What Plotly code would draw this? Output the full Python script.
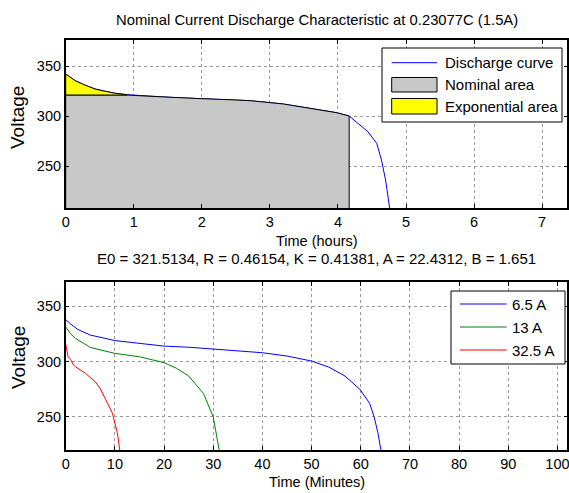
import plotly.graph_objects as go

W, H = 569, 493

# ---------------- data ----------------
# Top plot: nominal-current discharge curve (time in hours, voltage)
t_hours = [0, 0.14, 0.29, 0.43, 0.58, 0.73, 0.9, 1.24, 1.63, 2.0, 2.4, 2.71,
           3.2, 3.69, 3.98, 4.165, 4.32, 4.44, 4.57, 4.64, 4.70, 4.76]
v_nominal_curve = [342, 335.3, 330.7, 327, 324.7, 322.7, 321.3, 319.7, 318.3, 317.3,
                   316.3, 315.3, 312, 307, 303.3, 300, 291, 284.3, 272.7, 256, 236, 207.7]
v_nom_level = 321.0        # nominal voltage level (bottom of exponential area)
t_exp_end = 0.9            # end of exponential zone (hours)
t_nom_end = 4.165          # end of nominal zone (hours)

# Bottom plot: discharge curves at several currents (time in minutes)
t_65 = [0, 1, 2.5, 5, 10, 15, 20, 25, 30, 35, 40, 45, 50, 53.5, 56.8, 59.8, 61.8,
        62.7, 63.5, 64.1]
v_65 = [338, 334, 329, 324, 319, 316.5, 314, 313, 311.5, 310, 308, 305, 300.5,
        295, 286.9, 275, 262.3, 250.3, 235.3, 220]
t_13 = [0, 1, 2, 5, 10, 15, 20, 22.5, 25, 28, 30, 31.2]
v_13 = [331.4, 325, 321, 312.8, 307.4, 304.4, 299, 294, 287, 271.3, 250, 220]
t_325 = [0, 0.5, 1, 1.6, 2, 4, 6, 7, 8, 9.5, 10.5, 11]
v_325 = [315.8, 304.3, 302, 296.8, 295.3, 289.4, 281.8, 275.8, 266.8, 253.3, 235.5, 220]

top_labels = ["Discharge curve", "Nominal area", "Exponential area"]
bottom_labels = ["6.5 A", "13 A", "32.5 A"]

title_top = "Nominal Current Discharge Characteristic at 0.23077C (1.5A)"
title_bottom = "E0 = 321.5134, R = 0.46154, K = 0.41381, A = 22.4312, B = 1.651"

# ---------------- helpers ----------------
def px(x):
    return x / W

def py(y):
    return 1 - y / H

FONT = "Liberation Sans, Arial, sans-serif"
FS = 14.5

fig = go.Figure()

# Top: discharge curve
fig.add_trace(go.Scatter(x=t_hours, y=v_nominal_curve, mode="lines",
                         line=dict(color="#0000ff", width=1),
                         xaxis="x", yaxis="y", showlegend=False, hoverinfo="skip"))

# Nominal area (gray)
nx, ny = [0], [0]
for t, v in zip(t_hours, v_nominal_curve):
    if t <= t_nom_end:
        nx.append(t)
        ny.append(min(v, v_nom_level))
nx += [t_nom_end, 0]
ny += [0, 0]
fig.add_trace(go.Scatter(x=nx, y=ny, mode="lines", fill="toself",
                         fillcolor="#c8c8c8", line=dict(color="black", width=1),
                         xaxis="x", yaxis="y", showlegend=False, hoverinfo="skip"))

# Exponential area (yellow)
ex, ey = [], []
for t, v in zip(t_hours, v_nominal_curve):
    if t <= t_exp_end:
        ex.append(t)
        ey.append(v)
ex += [t_exp_end, 0, 0]
ey += [v_nom_level, v_nom_level, ey[0]]
fig.add_trace(go.Scatter(x=ex, y=ey, mode="lines", fill="toself",
                         fillcolor="#ffff00", line=dict(color="black", width=1),
                         xaxis="x", yaxis="y", showlegend=False, hoverinfo="skip"))

# Bottom: three currents
for tt, vv, col in [(t_65, v_65, "#0000ff"), (t_13, v_13, "#008000"), (t_325, v_325, "#ff0000")]:
    fig.add_trace(go.Scatter(x=tt, y=vv, mode="lines", line=dict(color=col, width=1),
                             xaxis="x2", yaxis="y2", showlegend=False, hoverinfo="skip"))

axis_common = dict(
    ticks="inside", ticklen=4, tickcolor="black", showline=True, linecolor="black",
    linewidth=1.5, mirror="ticks", showgrid=True, gridcolor="#9a9a9a", griddash="dot",
    gridwidth=1, zeroline=False, automargin=False, ticklabeloverflow="allow",
    tickfont=dict(family=FONT, size=FS, color="black"),
)

fig.update_layout(
    width=W, height=H, autosize=False,
    margin=dict(l=0, r=0, t=0, b=0),
    paper_bgcolor="white", plot_bgcolor="white",
    font=dict(family=FONT, size=FS, color="black"),
    showlegend=False,
    xaxis=dict(domain=[px(65.7), px(567.3)], range=[0, 7.37], tick0=0, dtick=1,
               anchor="y", **axis_common),
    yaxis=dict(domain=[py(208), py(40)], range=[208, 376], tickvals=[250, 300, 350],
               anchor="x", **axis_common),
    xaxis2=dict(domain=[px(65.7), px(567.3)], range=[0, 102], tick0=0, dtick=10,
                anchor="y2", **axis_common),
    yaxis2=dict(domain=[py(450), py(282)], range=[220, 372], tickvals=[250, 300, 350],
                anchor="x2", **axis_common),
)

ann = []
def text(x, y, s, xanchor="center", textangle=0, size=FS):
    ann.append(dict(x=px(x), y=py(y), xref="paper", yref="paper", text=s,
                    showarrow=False, xanchor=xanchor, yanchor="middle",
                    textangle=textangle, font=dict(family=FONT, size=size, color="black")))

text(316.5, 20, title_top, size=14.8)
text(316.5, 241, "Time (hours)")
text(316.5, 258, title_bottom, size=15)
text(316.5, 482, "Time (Minutes)")
text(18, 118, "Voltage", textangle=-90, size=19)
text(18, 358, "Voltage", textangle=-90, size=19)

shapes = []
def rect(x0, y0, x1, y1, fill, lw=1):
    shapes.append(dict(type="rect", xref="paper", yref="paper",
                       x0=px(x0), x1=px(x1), y0=py(y1), y1=py(y0),
                       fillcolor=fill, line=dict(color="black", width=lw)))

def hline(x0, x1, y, col):
    shapes.append(dict(type="line", xref="paper", yref="paper",
                       x0=px(x0), x1=px(x1), y0=py(y), y1=py(y),
                       line=dict(color=col, width=1)))

# Top legend
rect(382, 48, 562, 122, "white")
hline(391.7, 437, 62.7, "#0000ff")
rect(391.7, 77.5, 437, 92, "#c8c8c8")
rect(391.7, 98.5, 437, 114, "#ffff00")
for lbl, yy in zip(top_labels, [62.7, 84.5, 106.3]):
    text(442.7, yy, lbl, xanchor="left", size=15)

# Bottom legend
rect(451, 291, 565, 364, "white")
for lbl, yy, col in zip(bottom_labels, [304, 327, 350], ["#0000ff", "#008000", "#ff0000"]):
    hline(460, 506.7, yy, col)
    text(510, yy, lbl, xanchor="left", size=15)

fig.update_layout(annotations=ann, shapes=shapes)

fig.write_html("out.html", config={"displayModeBar": False},
               post_script="document.body.style.margin='0';")
